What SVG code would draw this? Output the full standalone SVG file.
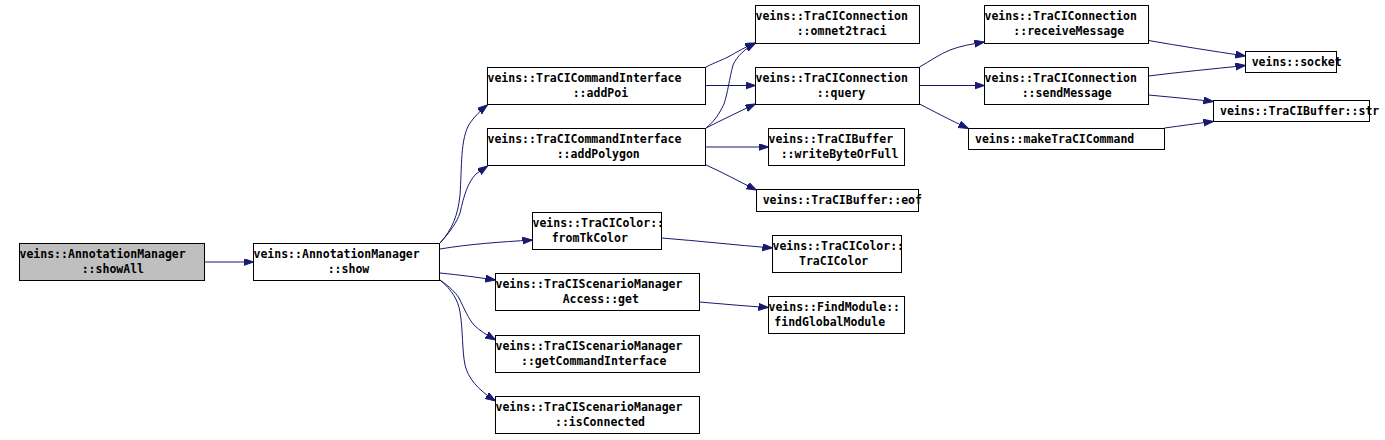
<svg xmlns="http://www.w3.org/2000/svg" width="1385" height="440" viewBox="0 0 1385 440">
<style>
.n rect{fill:#ffffff;stroke:#000000;stroke-width:1}
.n.root rect{fill:#bfbfbf}
.n text{font-family:"DejaVu Sans Mono","Liberation Mono",monospace;font-size:11.5px;font-weight:bold;fill:#000000}
.e path{fill:none;stroke:#191970;stroke-width:1;marker-end:url(#ah)}
</style>
<defs>
<marker id="ah" markerUnits="userSpaceOnUse" markerWidth="11" markerHeight="8" refX="10" refY="3.5" orient="auto">
<path d="M0,0 L10,3.5 L0,7 z" fill="#191970" stroke="#191970" stroke-width="1"/>
</marker>
</defs>
<rect width="1385" height="440" fill="#ffffff"/>
<g id="connectors" class="e">
<path d="M204.5,262 L253.5,262"/>
<path d="M440,243 C452,230 458,215 460,195 C462,168 460,138 470,123 C475,116 481,110 487.5,105"/>
<path d="M440,243 C450,232 457,222 460,213 C464,195 468,182 476,174 L487.5,166"/>
<path d="M440,249 C470,244 500,242 532.5,240"/>
<path d="M440,273 C460,275 475,277 495.5,280"/>
<path d="M440,280 C450,287 455,292 459,298 C465,310 468,318 474,325 C480,331 487,335 495.5,340"/>
<path d="M440,280 C452,290 458,300 460,312 C463,330 462,350 465,365 C468,378 478,390 495.5,401"/>
<path d="M706,67 C716,62 722,60 728,57 C737,52 745,47 755.5,43"/>
<path d="M705.5,85.5 L755.5,85.5"/>
<path d="M706,128 C716,120 720,112 724,104 C728,92 729,80 733,65 C737,56 745,49 755.5,43"/>
<path d="M706,128 C722,120 738,112 755.5,104"/>
<path d="M705.5,147 L768.5,147"/>
<path d="M706,165 C722,172 738,181 756.5,190"/>
<path d="M919.5,67 C930,61 940,54 950,50 C960,46 972,44 984.5,42"/>
<path d="M919.5,85.5 L984.5,85.5"/>
<path d="M919.5,104 C935,112 950,120 968.5,128.5"/>
<path d="M1148.5,40.5 C1180,46 1212,51 1245.5,56"/>
<path d="M1148.5,76 C1180,72 1212,69 1245.5,65.5"/>
<path d="M1148.5,95 C1170,97 1192,99 1213.5,101.5"/>
<path d="M1164.5,128 C1180,126 1196,123.5 1213.5,121.5"/>
<path d="M661.5,238 C700,241 735,245 772.5,248"/>
<path d="M699.5,302 C723,304 745,306 768.5,307.5"/>
</g>
<g id="node-showAll" class="n root"><rect x="19.5" y="243.5" width="185" height="37"/><text x="19.5" y="258">veins::AnnotationManager</text><text x="81.7" y="273">::showAll</text></g>
<g id="node-show" class="n"><rect x="253.5" y="243.5" width="186" height="37"/><text x="253.5" y="258">veins::AnnotationManager</text><text x="327.7" y="273">::show</text></g>
<g id="node-addPoi" class="n"><rect x="487.5" y="67.5" width="218" height="37"/><text x="487.5" y="82">veins::TraCICommandInterface</text><text x="572.7" y="97">::addPoi</text></g>
<g id="node-addPolygon" class="n"><rect x="487.5" y="128.5" width="218" height="37"/><text x="487.5" y="143">veins::TraCICommandInterface</text><text x="556.7" y="158">::addPolygon</text></g>
<g id="node-fromTkColor" class="n"><rect x="532.5" y="212.5" width="129" height="37"/><text x="532.5" y="227">veins::TraCIColor::</text><text x="551.7" y="242">fromTkColor</text></g>
<g id="node-accessGet" class="n"><rect x="495.5" y="273.5" width="204" height="37"/><text x="495.5" y="288">veins::TraCIScenarioManager</text><text x="562.7" y="303">Access::get</text></g>
<g id="node-getCommandInterface" class="n"><rect x="495.5" y="335.5" width="204" height="37"/><text x="495.5" y="350">veins::TraCIScenarioManager</text><text x="521" y="365">::getCommandInterface</text></g>
<g id="node-isConnected" class="n"><rect x="495.5" y="396.5" width="204" height="37"/><text x="495.5" y="411">veins::TraCIScenarioManager</text><text x="555" y="426">::isConnected</text></g>
<g id="node-omnet2traci" class="n"><rect x="755.5" y="5.5" width="164" height="38"/><text x="755.5" y="20">veins::TraCIConnection</text><text x="796.7" y="35">::omnet2traci</text></g>
<g id="node-query" class="n"><rect x="755.5" y="67.5" width="164" height="37"/><text x="755.5" y="82">veins::TraCIConnection</text><text x="816.7" y="97">::query</text></g>
<g id="node-writeByteOrFull" class="n"><rect x="768.5" y="128.5" width="136" height="37"/><text x="768.5" y="143">veins::TraCIBuffer</text><text x="780.7" y="158">::writeByteOrFull</text></g>
<g id="node-eof" class="n"><rect x="756.5" y="189.5" width="162" height="22"/><text x="762.7" y="204">veins::TraCIBuffer::eof</text></g>
<g id="node-TraCIColor" class="n"><rect x="772.5" y="235.5" width="129" height="37"/><text x="772.5" y="250">veins::TraCIColor::</text><text x="799" y="265">TraCIColor</text></g>
<g id="node-findGlobalModule" class="n"><rect x="768.5" y="296.5" width="136" height="37"/><text x="768.5" y="311">veins::FindModule::</text><text x="774.3" y="326">findGlobalModule</text></g>
<g id="node-receiveMessage" class="n"><rect x="984.5" y="5.5" width="164" height="38"/><text x="984.5" y="20">veins::TraCIConnection</text><text x="1013.3" y="35">::receiveMessage</text></g>
<g id="node-sendMessage" class="n"><rect x="984.5" y="67.5" width="164" height="37"/><text x="984.5" y="82">veins::TraCIConnection</text><text x="1021.7" y="97">::sendMessage</text></g>
<g id="node-makeTraCICommand" class="n"><rect x="968.5" y="128.5" width="196" height="21"/><text x="975" y="143">veins::makeTraCICommand</text></g>
<g id="node-socket" class="n"><rect x="1245.5" y="51.5" width="91" height="21"/><text x="1251.7" y="66">veins::socket</text></g>
<g id="node-str" class="n"><rect x="1213.5" y="100.5" width="156" height="21"/><text x="1220" y="115">veins::TraCIBuffer::str</text></g>
</svg>
